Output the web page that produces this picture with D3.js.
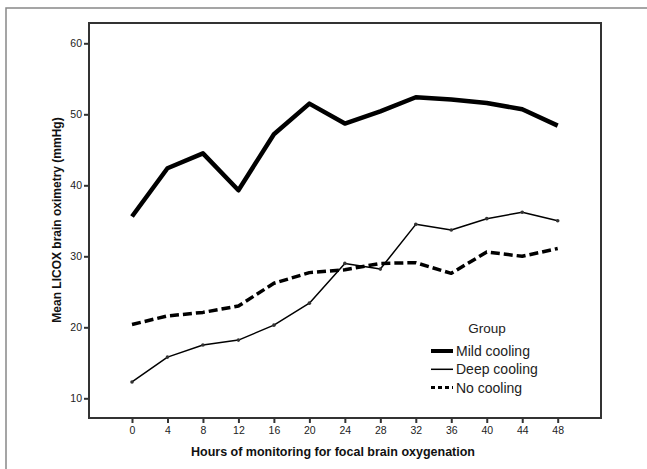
<!DOCTYPE html>
<html>
<head>
<meta charset="utf-8">
<script src="https://cdn.jsdelivr.net/npm/d3@7"></script>
<style>
  body { margin: 0; background: #fff; }
  svg { font-family: "Liberation Sans", Arial, sans-serif; }
</style>
</head>
<body>
<div id="chart"></div>
<script>
// hours on the x axis
const hours = [0, 4, 8, 12, 16, 20, 24, 28, 32, 36, 40, 44, 48];
// mean LICOX values per group (mmHg)
const mildCooling = [35.6, 42.4, 44.5, 39.3, 47.2, 51.5, 48.7, 50.4, 52.4, 52.1, 51.6, 50.7, 48.4];
const deepCooling = [12.3, 15.8, 17.5, 18.2, 20.3, 23.4, 29.0, 28.2, 34.5, 33.7, 35.3, 36.2, 35.0];
const noCooling = [20.4, 21.6, 22.1, 23.0, 26.2, 27.7, 28.1, 29.0, 29.1, 27.6, 30.6, 30.0, 31.1];
const yTicks = [10, 20, 30, 40, 50, 60];
const groups = ["Mild cooling", "Deep cooling", "No cooling"];

const W = 647, H = 469;
const frame = {left: 89, top: 23, right: 601, bottom: 418};

const svg = d3.select("#chart").append("svg")
    .attr("width", W)
    .attr("height", H);

// outer border (only top and left show in the window)
svg.append("path")
    .attr("d", "M6,700 L6,8 L700,8")
    .attr("fill", "none")
    .attr("stroke", "#888")
    .attr("stroke-width", 1.5);

var x = d3.scaleLinear().domain([0, 48]).range([132, 557.7]);
var y = d3.scaleLinear().domain([10, 60]).range([398.3, 43.3]);

// plot frame
svg.append("rect")
    .attr("x", frame.left)
    .attr("y", frame.top)
    .attr("width", frame.right - frame.left)
    .attr("height", frame.bottom - frame.top)
    .attr("fill", "none")
    .attr("stroke", "#333")
    .attr("stroke-width", 2);

// y axis
var yAxis = svg.append("g")
    .attr("transform", "translate(" + frame.left + ",0)")
    .call(d3.axisLeft(y).tickValues(yTicks).tickSize(5).tickPadding(2));
yAxis.select(".domain").remove();

// x axis
var xAxis = svg.append("g")
    .attr("transform", "translate(0," + frame.bottom + ")")
    .call(d3.axisBottom(x).tickValues(hours).tickSize(5).tickPadding(4));
xAxis.select(".domain").remove();

svg.selectAll(".tick line").attr("stroke", "#333").attr("stroke-width", 2);
svg.selectAll(".tick text")
    .attr("fill", "#222")
    .style("font-size", "10.5px");

// axis titles
svg.append("text")
    .attr("x", 333)
    .attr("y", 456)
    .attr("text-anchor", "middle")
    .style("font-weight", "bold")
    .style("font-size", "12.5px")
    .attr("fill", "#111")
    .text("Hours of monitoring for focal brain oxygenation");

svg.append("text")
    .attr("transform", "translate(61,220) rotate(-90)")
    .attr("text-anchor", "middle")
    .style("font-weight", "bold")
    .style("font-size", "12px")
    .attr("fill", "#111")
    .text("Mean LICOX brain oximetry (mmHg)");

// series
var styles = [
    {data: mildCooling, width: 4.5, dash: null},
    {data: deepCooling, width: 1.5, dash: null},
    {data: noCooling, width: 3.5, dash: "9,4"}
];

var line = d3.line()
    .x(function(d, i) { return x(hours[i]); })
    .y(function(d) { return y(d); });

styles.forEach(function(s) {
    svg.append("path")
        .datum(s.data)
        .attr("d", line)
        .attr("fill", "none")
        .attr("stroke", "#000")
        .attr("stroke-width", s.width)
        .attr("stroke-dasharray", s.dash)
        .attr("stroke-linejoin", "round");
});

// little dots on the deep cooling line
svg.selectAll(".dot")
    .data(deepCooling)
    .enter()
    .append("circle")
    .attr("cx", function(d, i) { return x(hours[i]); })
    .attr("cy", function(d) { return y(d); })
    .attr("r", 1.8)
    .attr("fill", "#333");

// legend
var legend = svg.append("g");
legend.append("text")
    .attr("x", 487)
    .attr("y", 333)
    .attr("text-anchor", "middle")
    .style("font-size", "13.5px")
    .attr("fill", "#222")
    .text("Group");

groups.forEach(function(g, i) {
    var ly = 351 + i * 18.3;
    legend.append("line")
        .attr("x1", 431).attr("x2", 453)
        .attr("y1", ly).attr("y2", ly)
        .attr("stroke", "#000")
        .attr("stroke-width", i === 0 ? 4 : (i === 1 ? 1.5 : 3))
        .attr("stroke-dasharray", styles[i].dash ? "4,3" : null);
    legend.append("text")
        .attr("x", 456)
        .attr("y", ly + 5)
        .style("font-size", "14px")
        .attr("fill", "#222")
        .text(g);
});
</script>
</body>
</html>
